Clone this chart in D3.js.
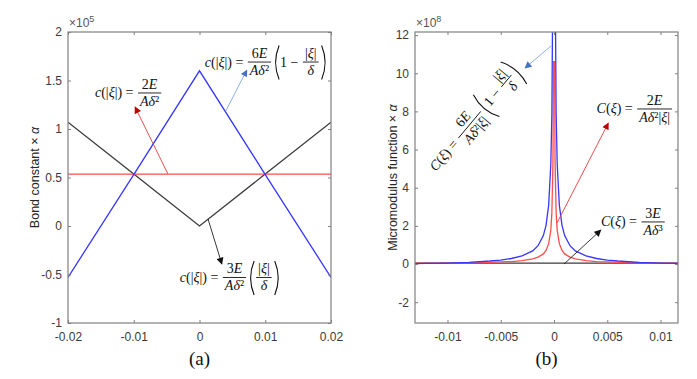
<!DOCTYPE html>
<html>
<head>
<meta charset="utf-8">
<script src="https://cdnjs.cloudflare.com/ajax/libs/d3/7.8.5/d3.min.js"></script>
<style>
body { margin: 0; background: #fff; }
.tick text { font-family: "Liberation Sans", Arial, sans-serif; font-size: 12px; fill: #3a3a3a; }
.axis-title { font-family: "Liberation Sans", Arial, sans-serif; font-size: 12.5px; fill: #262626; }
.expo { font-family: "Liberation Sans", Arial, sans-serif; font-size: 12px; fill: #555; }
.math { font-family: "Liberation Serif", "Times New Roman", serif; font-size: 14px; fill: #111; }
.caption { font-family: "Liberation Serif", "Times New Roman", serif; font-size: 19px; fill: #111; }
</style>
</head>
<body>
<svg id="chart" width="697" height="379"></svg>
<script>
// (a) bond constant, values x 1e5
var bondXi = [-0.02, -0.01, 0, 0.01, 0.02];
var bondTriangular = [-0.53, 0.53, 1.6, 0.53, -0.53];
var bondConstant = [0.535, 0.535, 0.535, 0.535, 0.535];
var bondLinear = [1.07, 0.535, 0, 0.535, 1.07];

// (b) micromodulus function, values x 1e8
var microXi = [-0.014, -0.012, -0.01, -0.008, -0.006, -0.005, -0.004, -0.003, -0.002, -0.0015,
    -0.001, -0.00075, -0.0005, -0.0003, -0.0002, -0.0001, -0.00005,
    0.00005, 0.0001, 0.0002, 0.0003, 0.0005, 0.00075, 0.001,
    0.0015, 0.002, 0.003, 0.004, 0.005, 0.006, 0.008, 0.01, 0.012, 0.014];
var microTriangular = [0.01, 0.03, 0.05, 0.09, 0.16, 0.21, 0.29, 0.43, 0.69, 0.96,
    1.49, 2.03, 3.09, 5.23, 7.89, 15.9, 31.9,
    31.9, 15.9, 7.89, 5.23, 3.09, 2.03, 1.49,
    0.96, 0.69, 0.43, 0.29, 0.21, 0.16, 0.09, 0.05, 0.03, 0.01];
var microInverse = [0.04, 0.04, 0.05, 0.07, 0.09, 0.11, 0.13, 0.18, 0.27, 0.36,
    0.53, 0.71, 1.07, 1.78, 2.67, 5.33, 10.6,
    10.6, 5.33, 2.67, 1.78, 1.07, 0.71, 0.53,
    0.36, 0.27, 0.18, 0.13, 0.11, 0.09, 0.07, 0.05, 0.04, 0.04];
var microConstant = [0.05, 0.05, 0.05, 0.05, 0.05, 0.05, 0.05, 0.05, 0.05, 0.05,
    0.05, 0.05, 0.05, 0.05, 0.05, 0.05, 0.05,
    0.05, 0.05, 0.05, 0.05, 0.05, 0.05, 0.05,
    0.05, 0.05, 0.05, 0.05, 0.05, 0.05, 0.05, 0.05, 0.05, 0.05];

// tick labels
var bondXTicks = [-0.02, -0.01, 0, 0.01, 0.02];
var bondYTicks = [-1, -0.5, 0, 0.5, 1, 1.5, 2];
var microXTicks = [-0.01, -0.005, 0, 0.005, 0.01];
var microYTicks = [-2, 0, 2, 4, 6, 8, 10, 12];

var NB = "\u00a0";
var svg = d3.select("#chart");

// arrow heads
var defs = svg.append("defs");
[["red", "#c00000"], ["blue", "#4472c4"], ["black", "#111"]].forEach(function (m) {
    defs.append("marker")
        .attr("id", "head-" + m[0])
        .attr("viewBox", "0 0 10 10")
        .attr("refX", 9).attr("refY", 5)
        .attr("markerUnits", "userSpaceOnUse")
        .attr("markerWidth", 8).attr("markerHeight", 7)
        .attr("orient", "auto")
        .append("path")
        .attr("d", "M0,0 L10,5 L0,10 z")
        .attr("fill", m[1]);
});

/**
 * writes a piece of formula, letters in italic
 */
function mathText(g, str, x, y) {
    var t = g.append("text").attr("class", "math").attr("x", x).attr("y", y);
    var runs = str.match(/[A-Za-zξδ]+|[^A-Za-zξδ]+/g) || [];
    runs.forEach(function (r) {
        t.append("tspan")
            .attr("font-style", /[A-Za-zξδ]/.test(r) ? "italic" : null)
            .text(r);
    });
    return t;
}

function mathFrac(g, it, x, y) {
    var bar = y - 4.5;
    var num = mathText(g, it.num, 0, bar - 4);
    var den = mathText(g, it.den, 0, bar + 13);
    var wn = num.node().getComputedTextLength();
    var wd = den.node().getComputedTextLength();
    var w = Math.max(wn, wd) + 4;
    num.attr("x", x + 1 + (w - wn) / 2);
    den.attr("x", x + 1 + (w - wd) / 2);
    g.append("line")
        .attr("x1", x + 1).attr("x2", x + 1 + w)
        .attr("y1", bar).attr("y2", bar)
        .attr("stroke", "#111").attr("stroke-width", 0.9);
    return w + 3;
}

function mathParen(g, items, x, y) {
    var top = y - 21, bot = y + 13, mid = (top + bot) / 2;
    var inner = mathRow(g, items, x + 7, y);
    var r = x + 7 + inner + 1;
    g.append("path")
        .attr("d", "M" + (x + 6) + "," + top + " Q" + (x - 1) + "," + mid + " " + (x + 6) + "," + bot)
        .attr("fill", "none").attr("stroke", "#111").attr("stroke-width", 1.1);
    g.append("path")
        .attr("d", "M" + r + "," + top + " Q" + (r + 7) + "," + mid + " " + r + "," + bot)
        .attr("fill", "none").attr("stroke", "#111").attr("stroke-width", 1.1);
    return inner + 16;
}

function mathRow(g, items, x, y) {
    var cx = x;
    items.forEach(function (it) {
        if (typeof it == "string") {
            var t = mathText(g, it, cx, y);
            cx += t.node().getComputedTextLength();
        }
        else if (it.num) {
            cx += mathFrac(g, it, cx, y);
        }
        else if (it.paren) {
            cx += mathParen(g, it.paren, cx, y);
        }
    });
    return cx - x;
}

/**
 * Constructor for one panel
 */
function Panel(opts) {
    var self = this;
    self.opts = opts;
    self.init();
}

Panel.prototype.init = function () {
    var self = this;
    var o = self.opts;

    self.x = d3.scaleLinear().domain(o.xDomain).range([o.left, o.right]);
    self.y = d3.scaleLinear().domain(o.yDomain).range([o.bottom, o.top]);
    self.g = svg.append("g");

    self.g.append("clipPath").attr("id", "clip-" + o.id)
        .append("rect")
        .attr("x", o.left).attr("y", o.top)
        .attr("width", o.right - o.left).attr("height", o.bottom - o.top);
};

Panel.prototype.drawAxes = function () {
    var self = this;
    var o = self.opts;
    var fmt = function (d) { return String(d); };

    var bottom = self.g.append("g").attr("transform", "translate(0," + o.bottom + ")")
        .call(d3.axisBottom(self.x).tickValues(o.xTicks).tickFormat(fmt).tickSizeInner(-3).tickSizeOuter(0).tickPadding(9));
    var left = self.g.append("g").attr("transform", "translate(" + o.left + ",0)")
        .call(d3.axisLeft(self.y).tickValues(o.yTicks).tickFormat(fmt).tickSizeInner(-3).tickSizeOuter(0).tickPadding(6));
    var top = self.g.append("g").attr("transform", "translate(0," + o.top + ")")
        .call(d3.axisTop(self.x).tickValues(o.xTicks).tickFormat("").tickSizeInner(-3).tickSizeOuter(0));
    var right = self.g.append("g").attr("transform", "translate(" + o.right + ",0)")
        .call(d3.axisRight(self.y).tickValues(o.yTicks).tickFormat("").tickSizeInner(-3).tickSizeOuter(0));

    [bottom, left, top, right].forEach(function (a) {
        a.select(".domain").remove();
        a.selectAll(".tick line").attr("stroke", "#808080");
    });

    self.g.append("rect")
        .attr("x", o.left).attr("y", o.top)
        .attr("width", o.right - o.left).attr("height", o.bottom - o.top)
        .attr("fill", "none").attr("stroke", "#808080").attr("stroke-width", 1.2);

    // exponent label
    var ex = self.g.append("text").attr("class", "expo")
        .attr("x", o.left + 1).attr("y", o.top - 5);
    ex.append("tspan").text("×10");
    ex.append("tspan").attr("dy", -5).attr("font-size", 9).text(o.expo);

    // y axis title
    var yt = self.g.append("text").attr("class", "axis-title")
        .attr("text-anchor", "middle")
        .attr("transform", "translate(" + o.titleX + "," + (o.top + o.bottom) / 2 + ") rotate(-90)");
    yt.append("tspan").text(o.yTitle + " × ");
    yt.append("tspan").attr("font-style", "italic").text("α");

    self.g.append("text").attr("class", "caption")
        .attr("text-anchor", "middle")
        .attr("x", (o.left + o.right) / 2).attr("y", 365)
        .text(o.caption);
};

Panel.prototype.drawSeries = function (xs, series) {
    var self = this;
    var line = d3.line()
        .x(function (d) { return self.x(d[0]); })
        .y(function (d) { return self.y(d[1]); });

    var lines = self.g.append("g").attr("clip-path", "url(#clip-" + self.opts.id + ")");
    series.forEach(function (s) {
        lines.append("path")
            .datum(xs.map(function (x, i) { return [x, s.values[i]]; }))
            .attr("d", line)
            .attr("fill", "none")
            .attr("stroke", s.color)
            .attr("stroke-width", 1.3);
    });
};

Panel.prototype.drawNotes = function (notes) {
    var self = this;
    notes.forEach(function (n) {
        self.g.append("line")
            .attr("x1", self.x(n.from[0])).attr("y1", self.y(n.from[1]))
            .attr("x2", self.x(n.to[0])).attr("y2", self.y(n.to[1]))
            .attr("stroke", n.color).attr("stroke-width", 0.9)
            .attr("marker-end", "url(#head-" + n.head + ")");

        var tg = self.g.append("g")
            .attr("transform", "translate(" + self.x(n.at[0]) + "," + self.y(n.at[1]) + ") rotate(" + (n.angle || 0) + ")");
        mathRow(tg, n.formula, 0, 0);
    });
};

var bondPanel = new Panel({
    id: "a", left: 68, right: 331, top: 32, bottom: 323,
    xDomain: [-0.02, 0.02], yDomain: [-1, 2],
    xTicks: bondXTicks, yTicks: bondYTicks,
    expo: "5", yTitle: "Bond constant", titleX: 39, caption: "(a)"
});
bondPanel.drawSeries(bondXi, [
    { values: bondLinear, color: "#3a3a3a" },
    { values: bondConstant, color: "#ff4d4d" },
    { values: bondTriangular, color: "#3636ff" }
]);
bondPanel.drawAxes();
bondPanel.drawNotes([
    {
        from: [-0.0048, 0.536], to: [-0.0098, 1.227], color: "#e83a3a", head: "red",
        at: [-0.0159, 1.325], formula: ["c(|ξ|)" + NB + "=" + NB, { num: "2E", den: "Aδ²" }]
    },
    {
        from: [0.004, 1.186], to: [0.0072, 1.608], color: "#7ea7dd", head: "blue",
        at: [0.0008, 1.644],
        formula: ["c(|ξ|)" + NB + "=" + NB, { num: "6E", den: "Aδ²" }, { paren: ["1" + NB + "−" + NB, { num: "|ξ|", den: "δ" }] }]
    },
    {
        from: [0.0013, 0.072], to: [0.0034, -0.392], color: "#222", head: "black",
        at: [-0.003, -0.577],
        formula: ["c(|ξ|)" + NB + "=" + NB, { num: "3E", den: "Aδ²" }, { paren: [{ num: "|ξ|", den: "δ" }] }]
    }
]);

var microPanel = new Panel({
    id: "b", left: 415, right: 678, top: 32, bottom: 323,
    xDomain: [-0.01305, 0.01164], yDomain: [-3.09, 12.16],
    xTicks: microXTicks, yTicks: microYTicks,
    expo: "8", yTitle: "Micromodulus function", titleX: 397, caption: "(b)"
});
microPanel.drawSeries(microXi, [
    { values: microConstant, color: "#3a3a3a" },
    { values: microInverse, color: "#ff4d4d" },
    { values: microTriangular, color: "#3636ff" }
]);
microPanel.drawAxes();
microPanel.drawNotes([
    {
        from: [-0.00028, 11.43], to: [-0.00272, 10.27], color: "#7ea7dd", head: "blue",
        at: [-0.0111, 4.82], angle: -50,
        formula: ["C(ξ)" + NB + "=" + NB, { num: "6E", den: "Aδ²|ξ|" }, { paren: ["1" + NB + "−" + NB, { num: "|ξ|", den: "δ" }] }]
    },
    {
        from: [0.00028, 2.15], to: [0.0051, 7.39], color: "#e83a3a", head: "red",
        at: [0.004, 7.89], formula: ["C(ξ)" + NB + "=" + NB, { num: "2E", den: "Aδ²|ξ|" }]
    },
    {
        from: [0.00094, 0], to: [0.0044, 1.78], color: "#222", head: "black",
        at: [0.0044, 1.97], formula: ["C(ξ)" + NB + "=" + NB, { num: "3E", den: "Aδ³" }]
    }
]);
</script>
</body>
</html>
